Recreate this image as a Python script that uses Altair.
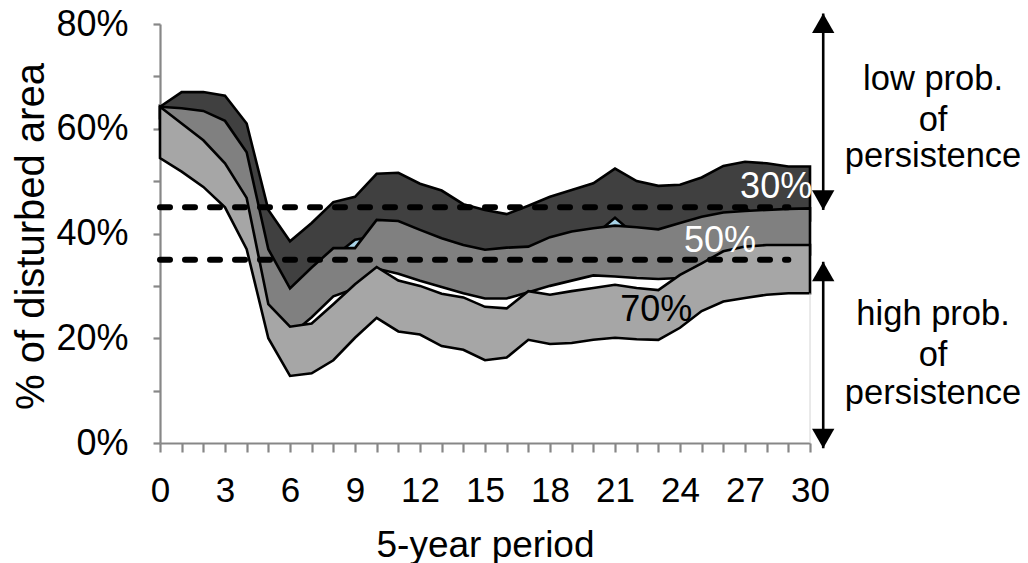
import altair as alt
import pandas as pd

# 5-year periods on the x axis
period = list(range(31))

# Band bounds, % of disturbed area, for the 30 %, 50 % and 70 % bands
dark_hi = [64.2, 67.0, 67.0, 66.3, 61.0, 44.5, 38.5, 42.0, 46.0, 47.0, 51.4, 51.6, 49.5, 48.2, 45.6,
           44.5, 43.7, 45.3, 47.0, 48.3, 49.6, 52.4, 50.0, 49.1, 49.3, 50.7, 52.9, 53.7, 53.4, 52.8, 52.8]
dark_lo = [62.0, 61.5, 61.0, 59.0, 53.0, 34.0, 27.0, 31.0, 35.5, 38.8, 39.5, 40.0, 38.5, 37.0, 35.5,
           34.5, 35.0, 35.5, 37.0, 38.0, 39.5, 43.0, 39.5, 38.5, 40.0, 41.0, 42.0, 44.9, 42.0, 42.5, 42.5]
mid_hi = [64.2, 63.9, 63.4, 61.5, 55.5, 37.0, 29.5, 33.5, 37.2, 37.2, 42.6, 42.4, 40.7, 39.1, 37.8,
          36.9, 37.3, 37.5, 39.3, 40.4, 41.0, 41.5, 41.2, 40.8, 42.0, 43.2, 44.0, 44.3, 44.5, 44.7, 44.8]
mid_lo = [60.0, 57.0, 54.0, 50.0, 42.0, 23.0, 20.5, 24.0, 28.0, 29.5, 33.3, 32.3, 31.0, 29.8, 28.6,
          27.6, 27.6, 28.8, 30.0, 31.0, 32.0, 31.8, 31.5, 31.3, 31.5, 32.5, 34.5, 35.5, 36.0, 36.0, 36.0]
light_hi = [64.2, 61.0, 57.8, 53.4, 46.8, 26.5, 22.2, 22.8, 26.5, 30.3, 33.6, 31.0, 30.0, 28.5, 27.8,
            26.0, 25.7, 29.0, 28.3, 29.0, 29.6, 30.2, 29.6, 29.2, 32.1, 34.3, 36.6, 37.5, 37.8, 37.8, 37.8]
light_lo = [54.4, 51.8, 48.9, 45.0, 37.0, 20.0, 12.8, 13.3, 15.8, 20.1, 23.9, 21.3, 20.7, 18.5, 17.8,
            15.8, 16.3, 19.7, 18.9, 19.1, 19.7, 20.1, 19.8, 19.7, 22.0, 25.2, 27.0, 27.7, 28.3, 28.6, 28.6]

# Persistence thresholds (dashed lines)
thresholds = [45, 35]
threshold_end = 29

# Band labels
band_names = ["30%", "50%", "70%"]
band_label_x = [30.1, 25.85, 22.9]
band_label_y = [46.8, 36.5, 23.2]
band_label_color = ["white", "white", "black"]
band_label_align = ["right", "center", "center"]

# Arrows on the right: [tail, tip] for each
arrow_x = 30.61
arrow_up_span = [82.0, 44.5]     # points down to the upper threshold
arrow_low_span = [34.6, -1.0]    # points up to the lower threshold

# Side notes
note_lines = ["low prob.", "of", "persistence", "high prob.", "of", "persistence"]
note_y = [67.4, 59.6, 52.7, 22.5, 14.7, 7.4]
note_x = 35.68

FONT = "Liberation Sans"
AXIS_GREY = "#878787"

bands = pd.DataFrame({
    "period": period,
    "dark_hi": dark_hi, "dark_lo": dark_lo,
    "mid_hi": mid_hi, "mid_lo": mid_lo,
    "light_hi": light_hi, "light_lo": light_lo,
})

xscale = alt.Scale(domain=[0, 30], nice=False, zero=False)
yscale = alt.Scale(domain=[0, 80], nice=False, zero=False)

x_axis = alt.Axis(
    values=period, labelExpr="datum.value % 3 == 0 ? datum.label : ''",
    labelFont=FONT, labelFontSize=35, labelColor="black", labelBaseline="alphabetic",
    labelPadding=49, labelFlush=False, labelOverlap=False,
    tickSize=9, tickColor=AXIS_GREY, tickWidth=2.2,
    domainColor=AXIS_GREY, domainWidth=2.2, grid=False,
    title="5-year period", titleFont=FONT, titleFontSize=37, titleFontWeight="normal",
    titleColor="black", titleBaseline="alphabetic", titleY=113, titleX=325,
)
y_axis = alt.Axis(
    values=list(range(0, 81, 10)),
    labelExpr="datum.value % 20 == 0 ? datum.value + '%' : ''",
    labelFont=FONT, labelFontSize=36, labelColor="black", labelPadding=25,
    labelFlush=False, labelOverlap=False,
    tickSize=7, tickColor=AXIS_GREY, tickWidth=2.2,
    domainColor=AXIS_GREY, domainWidth=2.2, grid=False,
    title="% of disturbed area", titleFont=FONT, titleFontSize=40, titleFontWeight="normal",
    titleColor="black", titleAngle=-90, titleAlign="center", titleBaseline="alphabetic",
    titleX=-117, titleY=212,
)


def X(field="period"):
    return alt.X(f"{field}:Q", scale=xscale, axis=x_axis)


def Y(field):
    return alt.Y(f"{field}:Q", scale=yscale, axis=y_axis)


base = alt.Chart(bands)

# light-blue sliver shows wherever the 30 % band lifts off the 50 % band
gap = base.mark_area(color="#a7d3e8", opacity=1).encode(x=X(), y=Y("dark_lo"), y2="mid_hi:Q")


def band(hi, lo, fill):
    return base.mark_area(fill=fill, stroke="black", strokeWidth=2.6, opacity=1,
                          fillOpacity=1).encode(x=X(), y=Y(hi), y2=f"{lo}:Q")


dark = band("dark_hi", "dark_lo", "#404040")
mid = band("mid_hi", "mid_lo", "#808080")
light = band("light_hi", "light_lo", "#a6a6a6")

thr = pd.DataFrame({"pct": thresholds, "start": [0] * len(thresholds),
                    "end": [threshold_end] * len(thresholds)})
dashes = alt.Chart(thr).mark_rule(
    color="black", strokeWidth=6, strokeDash=[10, 15], strokeCap="round").encode(
    x=X("start"), x2="end:Q", y=Y("pct"))

edge = alt.Chart(pd.DataFrame({"period": [30], "lo": [0], "hi": [light_lo[-1]]})).mark_rule(
    color="#d4d4d4", strokeWidth=1).encode(x=X(), y=Y("lo"), y2="hi:Q")

labels_df = pd.DataFrame({"period": band_label_x, "pct": band_label_y, "txt": band_names,
                          "col": band_label_color, "al": band_label_align})
band_labels = []
for al in ["right", "center"]:
    band_labels.append(
        alt.Chart(labels_df[labels_df["al"] == al]).mark_text(
            font=FONT, fontSize=36, baseline="alphabetic", align=al).encode(
            x=X(), y=Y("pct"), text="txt:N", color=alt.Color("col:N", scale=None)))

arrows_df = pd.DataFrame({"period": [arrow_x, arrow_x],
                          "tail": [arrow_up_span[0], arrow_low_span[1]],
                          "tip": [arrow_up_span[1], arrow_low_span[0]]})
shafts = alt.Chart(arrows_df).mark_rule(color="black", strokeWidth=2.6).encode(
    x=X(), y=Y("tail"), y2="tip:Q")

DOWN = "M0,0L-1,-1.75L1,-1.75Z"
UP = "M0,0L-1,1.75L1,1.75Z"
heads_df = pd.DataFrame({
    "period": [arrow_x] * 4,
    "pct": [arrow_up_span[0], arrow_up_span[1], arrow_low_span[0], arrow_low_span[1]],
    "dir": ["up", "down", "up", "down"],
})
heads = []
for d, path in [("up", UP), ("down", DOWN)]:
    heads.append(alt.Chart(heads_df[heads_df["dir"] == d]).mark_point(
        shape=path, size=500, filled=True, color="black", opacity=1, strokeWidth=0).encode(
        x=X(), y=Y("pct")))

notes_df = pd.DataFrame({"period": [note_x] * len(note_lines), "pct": note_y, "txt": note_lines})
notes = alt.Chart(notes_df).mark_text(
    font=FONT, fontSize=34.5, baseline="alphabetic", align="center", color="black").encode(
    x=X(), y=Y("pct"), text="txt:N")

chart = alt.layer(
    gap, dark, mid, light, edge, dashes, *band_labels, shafts, *heads, notes
).properties(
    width=650, height=419,
    autosize=alt.AutoSizeParams(type="none"),
    padding={"left": 160, "top": 24, "right": 218, "bottom": 120},
    background="white",
).configure_view(stroke=None)

chart.save("out.html", embed_options={"renderer": "svg", "actions": False})
